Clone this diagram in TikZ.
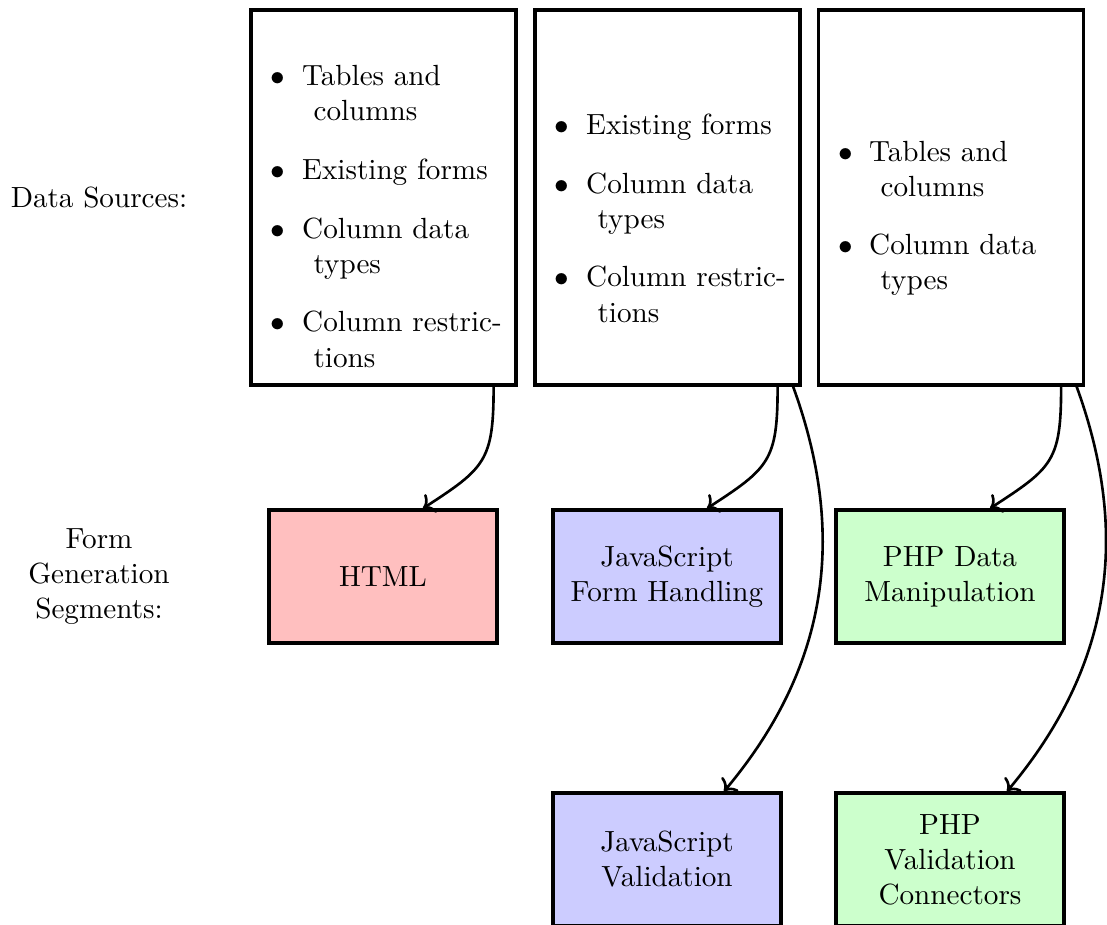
\documentclass[tikz,border=0pt]{standalone}
\usetikzlibrary{arrows.meta}
\newcommand{\pxu}{0.34282pt}
\newcommand{\bul}{\makebox[10.7pt][l]{$\bullet$}}
\newcommand{\cont}{\hspace*{14.6pt}}
\begin{document}
\begin{tikzpicture}[x=0.34282pt,y=0.34282pt,
  srcbox/.style={draw, line width=1.1pt, minimum width=265*\pxu, minimum height=375*\pxu, inner sep=0pt},
  listtext/.style={anchor=base west, inner sep=0pt, align=left},
  segbox/.style={draw, line width=1.1pt, minimum width=228*\pxu, minimum height=133*\pxu, align=center, inner sep=0pt},
  htmlbox/.style={segbox, fill=red!25},
  jsbox/.style={segbox, fill=blue!20},
  phpbox/.style={segbox, fill=green!20},
  lbl/.style={align=center, inner sep=0pt},
  conn/.style={->, line width=0.9pt},
  shortconn/.style={conn, out=-90, in=33, looseness=1.35},
  longconn/.style={conn, out=-70, in=50}]
\useasboundingbox (0,0) rectangle (1107,-924);

% row labels
\node[lbl] (dslbl) at (99,-197.5) {Data Sources:};
\node[lbl] (fglbl) at (99,-576.5) {Form\\Generation\\Segments:};

% data source boxes
\node[srcbox] (s1) at (383.5,-197.5) {};
\node[srcbox] (s2) at (667.5,-197.5) {};
\node[srcbox] (s3) at (951,-197.5) {};

% list texts (anchored at the baseline of their last line)
\node[listtext] (t1) at (270.4,-367) {\bul Tables and\\ \cont columns\\[8.2pt]
  \bul Existing forms\\[8.2pt]
  \bul Column data\\ \cont types\\[8.2pt]
  \bul Column restric-\\ \cont tions};
\node[listtext] (t2) at (554.4,-322) {\bul Existing forms\\[8.2pt]
  \bul Column data\\ \cont types\\[8.2pt]
  \bul Column restric-\\ \cont tions};
\node[listtext] (t3) at (837.4,-290) {\bul Tables and\\ \cont columns\\[8.2pt]
  \bul Column data\\ \cont types};

% segment boxes
\node[htmlbox] (html) at (383,-576.5) {HTML};
\node[jsbox] (jsf) at (667,-576.5) {JavaScript\\Form Handling};
\node[phpbox] (phpd) at (950,-576.5) {PHP Data\\Manipulation};
\node[jsbox] (jsv) at (667,-859.5) {JavaScript\\Validation};
\node[phpbox] (phpv) at (950,-859.5) {PHP\\Validation\\Connectors};

% connectors
\draw[shortconn] ([xshift=-24*\pxu]s1.south east) to ([xshift=40*\pxu]html.north);
\draw[shortconn] ([xshift=-24*\pxu]s2.south east) to ([xshift=40*\pxu]jsf.north);
\draw[longconn] ([xshift=-8.5*\pxu]s2.south east) to ([xshift=57*\pxu]jsv.north);
\draw[shortconn] ([xshift=-24*\pxu]s3.south east) to ([xshift=40*\pxu]phpd.north);
\draw[longconn] ([xshift=-8.5*\pxu]s3.south east) to ([xshift=57*\pxu]phpv.north);
\end{tikzpicture}
\end{document}
